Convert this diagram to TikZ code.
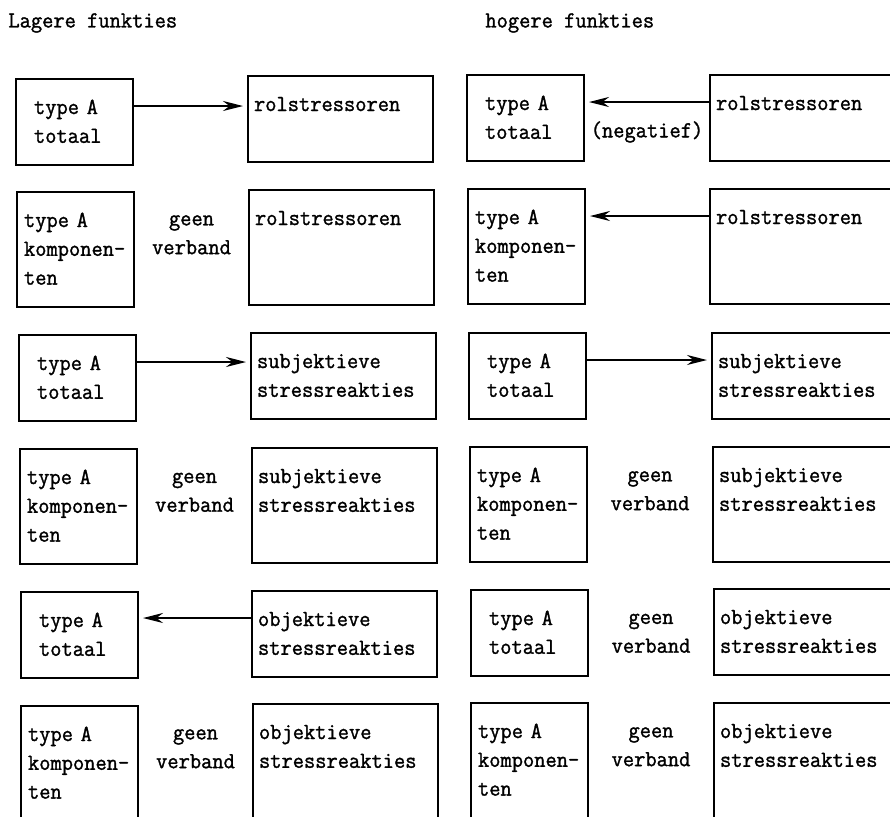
\documentclass[tikz,border=0pt]{standalone}
\usepackage{fontspec}
\usepackage{tikz}
\usetikzlibrary{arrows.meta,calc}
\newfontfamily\typewriter{Latin Modern Mono}[FakeBold=1.3,FakeStretch=0.95]

\begin{document}
\begin{tikzpicture}[
  x=0.5pt, y=-0.5pt,
  font=\typewriter\fontsize{11.5}{14.4}\selectfont,
  box/.style={draw,line width=1pt,anchor=north west,align=left,inner ysep=9.5pt,text height=8pt},
  komp/.style={box,text width=51.5pt,inner xsep=3.5pt,text depth=30.5pt},
  tot/.style={box,text width=40.5pt,inner xsep=9pt,text depth=16pt},
  var/.style={box,text width=86.5pt,inner xsep=3pt},
  low/.style={text depth=16pt},
  high/.style={text depth=30.5pt},
  geen/.style={text width=44pt,align=center,anchor=north,inner ysep=9.5pt,inner xsep=0pt,text height=8pt},
  link/.style={line width=1pt,-{Stealth[length=10pt,width=5pt]},shorten >=2pt},
]
\useasboundingbox (0,0) rectangle (890,816);
\node[anchor=west,inner sep=0pt] (titlel) at (8,23) {Lagere funkties};
\node[anchor=west,inner sep=0pt] (titleh) at (485,23) {hogere funkties};

% lagere funkties
\node[tot] (la1) at (15,78) {type A\\totaal};
\node[var,low] (lb1) at (247,75) {rolstressoren};
\node[komp] (la2) at (16,191) {type A\\komponen-\\ten};
\node[var,high] (lb2) at (248,189) {rolstressoren};
\node[tot] (la3) at (18,334) {type A\\totaal};
\node[var,low] (lb3) at (250,332) {subjektieve\\stressreakties};
\node[komp] (la4) at (19,448) {type A\\komponen-\\ten};
\node[var,high] (lb4) at (251,447) {subjektieve\\stressreakties};
\node[tot] (la5) at (20,591) {type A\\totaal};
\node[var,low] (lb5) at (251,590) {objektieve\\stressreakties};
\node[komp] (la6) at (20,705) {type A\\komponen-\\ten};
\node[var,high] (lb6) at (252,703) {objektieve\\stressreakties};

\draw[link] ([yshift=-14pt]la1.north east) -- ([yshift=-14pt]la1.north east -| lb1.west);
\node[geen] (lg2) at ($(la2.north east)!0.5!(lb2.north west)$) {geen\\verband};
\draw[link] ([yshift=-14pt]la3.north east) -- ([yshift=-14pt]la3.north east -| lb3.west);
\node[geen] (lg4) at ($(la4.north east)!0.5!(lb4.north west)$) {geen\\verband};
\draw[link] ([yshift=-14pt]lb5.north west) -- ([yshift=-14pt]lb5.north west -| la5.east);
\node[geen] (lg6) at ($(la6.north east)!0.5!(lb6.north west)$) {geen\\verband};

% hogere funkties
\node[tot] (ha1) at (466,74) {type A\\totaal};
\node[var,low] (hb1) at (709,74) {rolstressoren};
\node[komp] (ha2) at (467,188) {type A\\komponen-\\ten};
\node[var,high] (hb2) at (709,188) {rolstressoren};
\node[tot] (ha3) at (468,332) {type A\\totaal};
\node[var,low] (hb3) at (711,332) {subjektieve\\stressreakties};
\node[komp] (ha4) at (469,446) {type A\\komponen-\\ten};
\node[var,high] (hb4) at (712,446) {subjektieve\\stressreakties};
\node[tot] (ha5) at (470,589) {type A\\totaal};
\node[var,low] (hb5) at (713,588) {objektieve\\stressreakties};
\node[komp] (ha6) at (470,702) {type A\\komponen-\\ten};
\node[var,high] (hb6) at (713,702) {objektieve\\stressreakties};

\draw[link] ([yshift=-14pt]hb1.north west) -- ([yshift=-14pt]hb1.north west -| ha1.east)
  node[midway,yshift=-15pt] {(negatief)};
\draw[link] ([yshift=-14pt]hb2.north west) -- ([yshift=-14pt]hb2.north west -| ha2.east);
\draw[link] ([yshift=-14pt]ha3.north east) -- ([yshift=-14pt]ha3.north east -| hb3.west);
\node[geen] (hg4) at ($(ha4.north east)!0.5!(hb4.north west)$) {geen\\verband};
\node[geen] (hg5) at ($(ha5.north east)!0.5!(hb5.north west)$) {geen\\verband};
\node[geen] (hg6) at ($(ha6.north east)!0.5!(hb6.north west)$) {geen\\verband};
\end{tikzpicture}
\end{document}
